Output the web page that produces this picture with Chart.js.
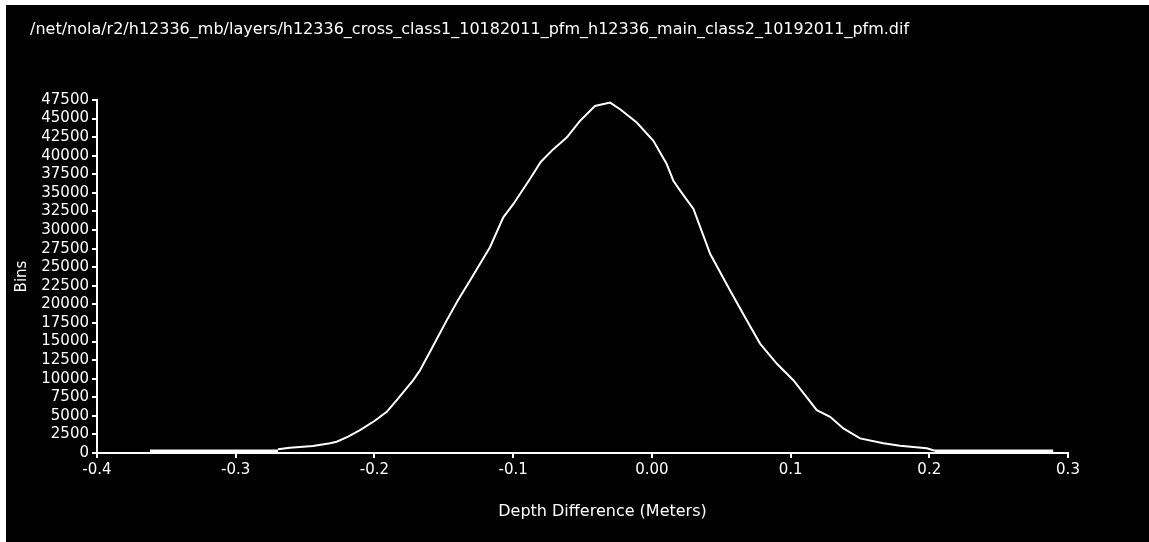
<!DOCTYPE html>
<html>
<head>
<meta charset="utf-8">
<script src="https://cdn.jsdelivr.net/npm/chart.js@4.4.1/dist/chart.umd.min.js"></script>
<style>
  html, body { margin: 0; padding: 0; background: #ffffff; }
  #wrap { position: absolute; left: 6px; top: 5px; width: 1143px; height: 537px; background: #000000; }
  canvas { display: block; }
</style>
</head>
<body>
<div id="wrap"><canvas id="c" width="1143" height="537"></canvas></div>
<script>
// ---- data ----
const titleText = "/net/nola/r2/h12336_mb/layers/h12336_cross_class1_10182011_pfm_h12336_main_class2_10192011_pfm.dif";
const xAxisTitle = "Depth Difference (Meters)";
const yAxisTitle = "Bins";

const depth = [-0.2695, -0.2610, -0.2443, -0.2320, -0.2272, -0.2190, -0.2104, -0.2000, -0.1911, -0.1839,
  -0.1720, -0.1671, -0.1580, -0.1479, -0.1400, -0.1311, -0.1167, -0.1071, -0.0998, -0.0878,
  -0.0800, -0.0710, -0.0614, -0.0518, -0.0410, -0.0301, -0.0229, -0.0109, 0.0011, 0.0107,
  0.0155, 0.0204, 0.0300, 0.0420, 0.0564, 0.0684, 0.0780, 0.0900, 0.1020, 0.1189,
  0.1285, 0.1381, 0.1501, 0.1669, 0.1789, 0.1982, 0.2040];
const bins = [500, 700, 950, 1300, 1520, 2200, 3090, 4300, 5540, 7110,
  9800, 11140, 14300, 17850, 20500, 23220, 27690, 31710, 33510, 36900,
  39200, 40890, 42450, 44690, 46700, 47150, 46260, 44460, 42000, 38880,
  36640, 35300, 32840, 26800, 21870, 17850, 14720, 12040, 9800, 5770,
  4870, 3310, 1970, 1300, 980, 630, 310];

const leftTailDepth = [-0.3618, -0.2695];
const leftTailBins = [200, 200];
const rightTailDepth = [0.2040, 0.2893];
const rightTailBins = [200, 200];

const xTickLabels = ["-0.4", "-0.3", "-0.2", "-0.1", "0.00", "0.1", "0.2", "0.3"];
const xMin = -0.4, xMax = 0.3, xStep = 0.1;
const yMin = 0, yMax = 47500, yStep = 2500;

// ---- chart ----
const toPts = (xs, ys) => xs.map((x, i) => ({ x: x, y: ys[i] }));
const FONT = "'DejaVu Sans', sans-serif";
const WHITE = "#ffffff";

const layoutTweaks = {
  id: 'layoutTweaks',
  afterLayout(chart) {
    if (chart.titleBlock) { chart.titleBlock.left = 24; }
    const xs = chart.scales.x;
    if (xs && !xs._titleShifted) {
      const orig = xs.drawTitle;
      xs.drawTitle = function () {
        const l = this.left, r = this.right;
        this.left = l + 20; this.right = r + 20;
        orig.call(this);
        this.left = l; this.right = r;
      };
      xs._titleShifted = true;
    }
  }
};

new Chart(document.getElementById('c'), {
  type: 'line',
  data: {
    datasets: [
      { data: toPts(depth, bins), borderColor: WHITE, borderWidth: 2, pointRadius: 0, tension: 0, fill: false },
      { data: toPts(leftTailDepth, leftTailBins), borderColor: WHITE, borderWidth: 4, pointRadius: 0, fill: false },
      { data: toPts(rightTailDepth, rightTailBins), borderColor: WHITE, borderWidth: 4, pointRadius: 0, fill: false }
    ]
  },
  options: {
    responsive: false,
    animation: false,
    devicePixelRatio: 1,
    layout: { padding: { left: 0, right: 81, top: 0, bottom: 0 } },
    plugins: {
      legend: { display: false },
      tooltip: { enabled: false },
      title: {
        display: true, text: titleText, align: 'start', color: WHITE,
        font: { family: FONT, size: 16, weight: 'normal', lineHeight: 1.2 },
        padding: { top: 15.4, bottom: 60.4 }
      }
    },
    scales: {
      x: {
        type: 'linear', min: xMin, max: xMax,
        afterFit(scale) { scale.height = 89; },
        ticks: {
          stepSize: xStep, color: WHITE, padding: 3, maxRotation: 0, autoSkip: false,
          font: { family: FONT, size: 15 },
          callback: (v, i) => xTickLabels[i]
        },
        grid: { drawOnChartArea: false, drawTicks: true, tickLength: 5, color: WHITE, lineWidth: 2 },
        border: { display: true, color: WHITE, width: 2 },
        title: {
          display: true, text: xAxisTitle, color: WHITE,
          font: { family: FONT, size: 16, lineHeight: 1.2 },
          padding: { top: 0, bottom: 20.4 }
        }
      },
      y: {
        type: 'linear', min: yMin, max: yMax,
        afterFit(scale) { scale.width = 91; },
        ticks: {
          stepSize: yStep, color: WHITE, padding: 3, autoSkip: false,
          font: { family: FONT, size: 15 },
          callback: (v) => String(v)
        },
        grid: { drawOnChartArea: false, drawTicks: true, tickLength: 5, color: WHITE, lineWidth: 2 },
        border: { display: true, color: WHITE, width: 2 },
        title: {
          display: true, text: yAxisTitle, color: WHITE,
          font: { family: FONT, size: 15, lineHeight: 1.2 },
          padding: { top: 7, bottom: 0 }
        }
      }
    }
  },
  plugins: [layoutTweaks]
});
</script>
</body>
</html>
